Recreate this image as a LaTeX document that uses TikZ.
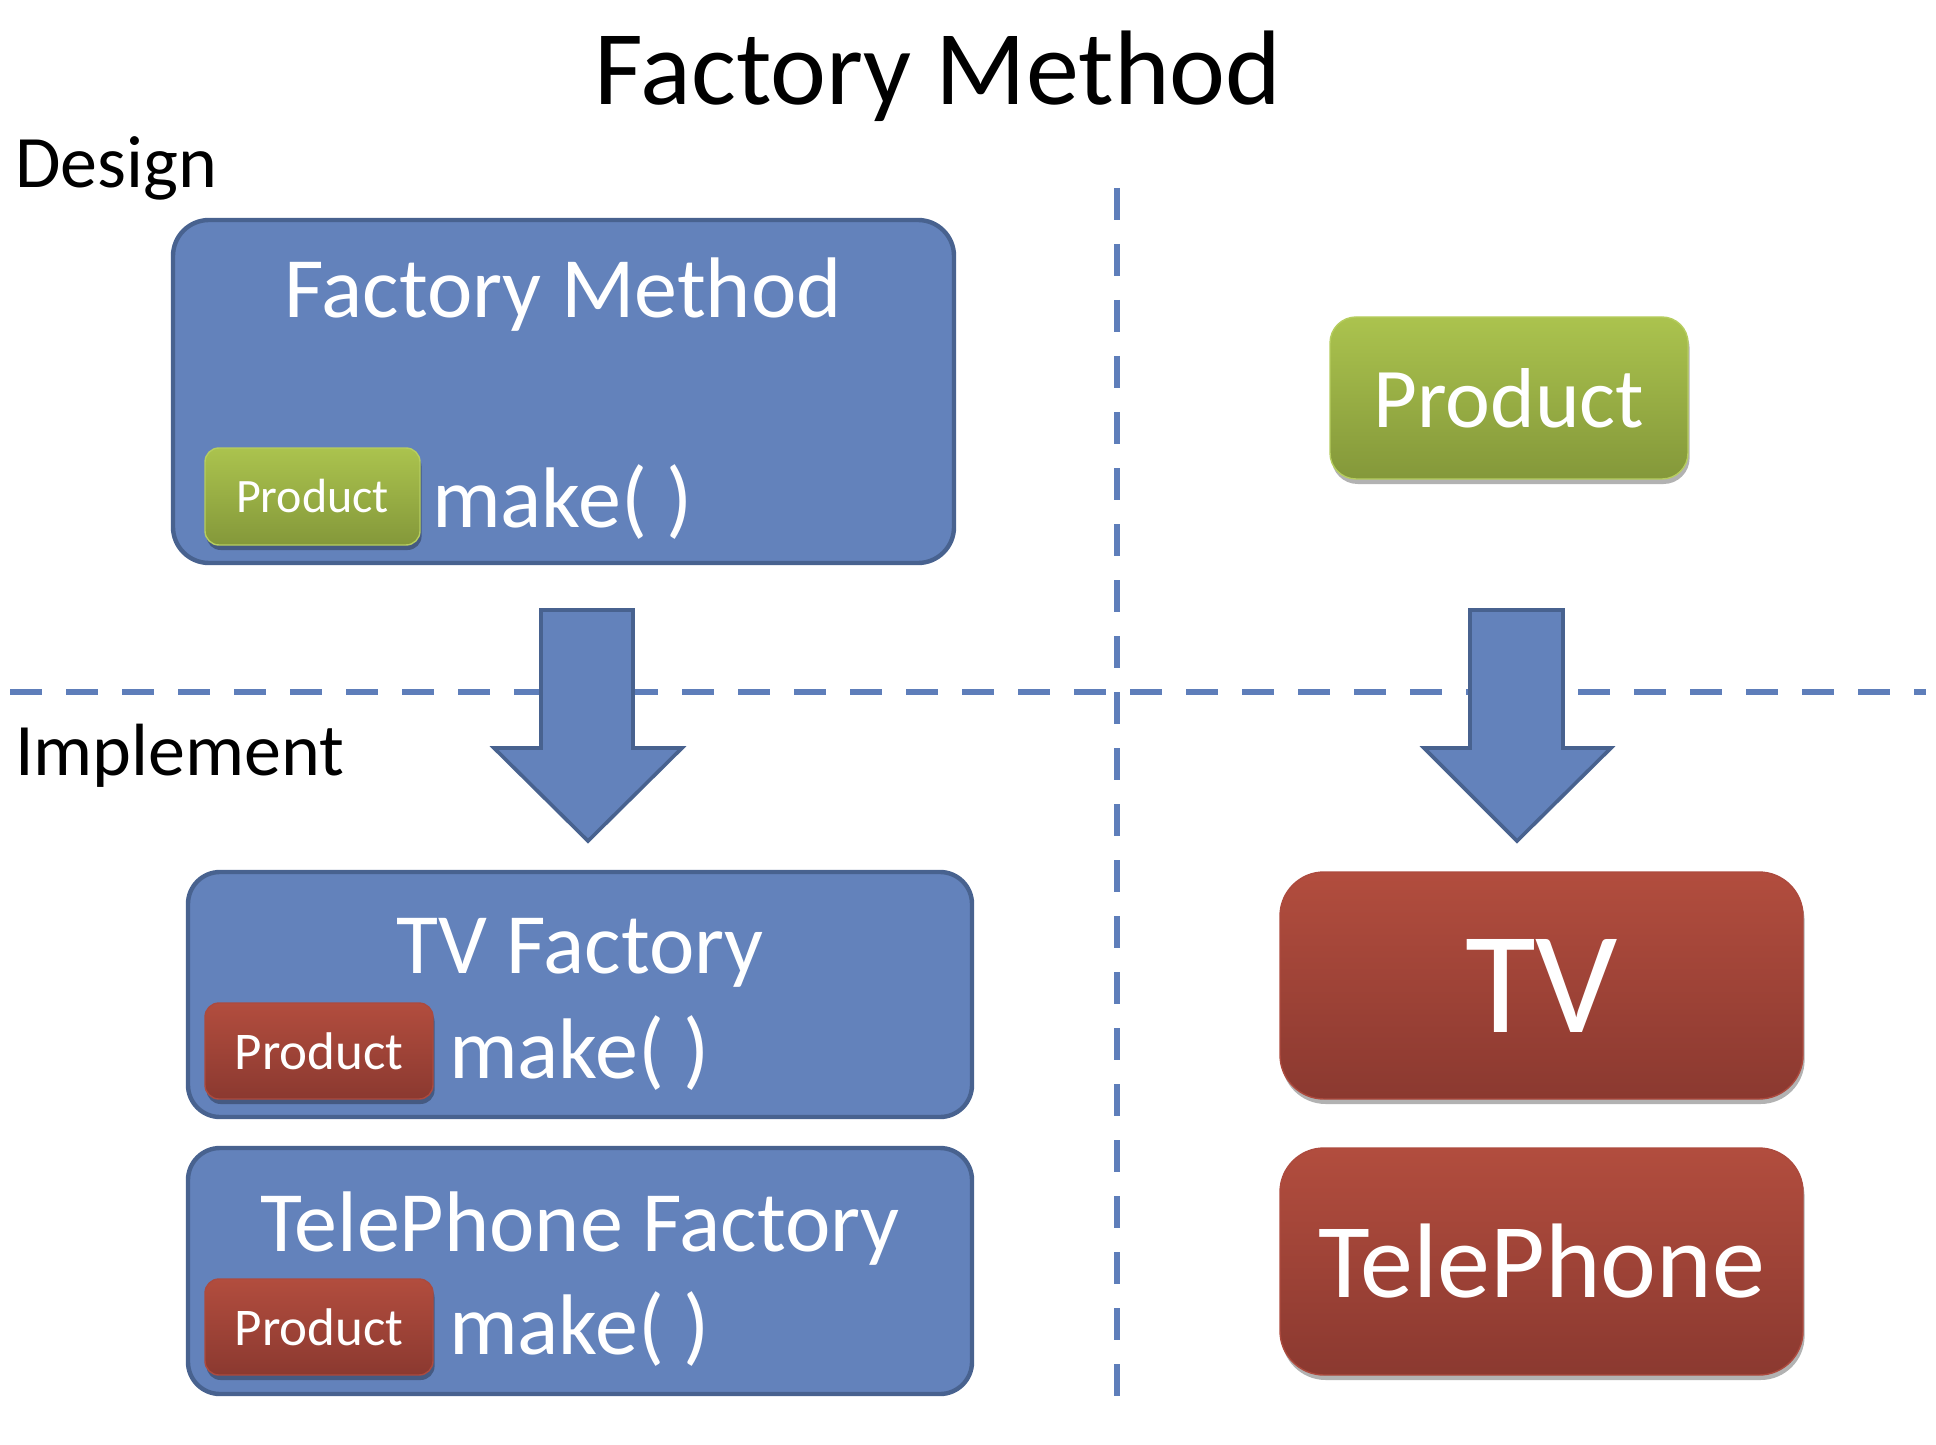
\documentclass[tikz,border=0pt]{standalone}
\usepackage{fontspec}
\setmainfont{Carlito}
\usetikzlibrary{shadows}
\definecolor{bluefill}{RGB}{99,130,187}
\definecolor{blueline}{RGB}{72,98,143}
\definecolor{dashblue}{RGB}{94,126,186}
\definecolor{greentop}{RGB}{171,195,78}
\definecolor{greenbot}{RGB}{132,152,58}
\definecolor{greenline}{RGB}{182,205,95}
\definecolor{redtop}{RGB}{178,77,62}
\definecolor{redbot}{RGB}{139,57,48}
\definecolor{redline}{RGB}{172,74,62}
\begin{document}
\begin{tikzpicture}[x=0.5pt,y=-0.5pt,
  txt/.style={inner sep=0pt, outer sep=0pt},
  bluebox/.style={draw=blueline, line width=2.2pt, fill=bluefill, inner sep=0pt},
  shade/.style={drop shadow={shadow xshift=0.8pt, shadow yshift=-2.5pt, opacity=0.3, fill=black}},
  greenbox/.style={shade, top color=greentop, bottom color=greenbot, draw=greenline, line width=0.7pt, text=white, inner sep=0pt},
  redbox/.style={shade, top color=redtop, bottom color=redbot, draw=redline, line width=0.7pt, text=white, inner sep=0pt},
  dashline/.style={draw=dashblue, line width=3pt, dash pattern=on 16pt off 12pt},
  blockarrow/.style={draw=blueline, line width=1.8pt, fill=bluefill, line join=miter},
  boxfont/.style={font=\fontsize{43pt}{50pt}\selectfont, text=white},
]
\useasboundingbox (0,0) rectangle (1936,1444);

% headings
\node[txt, anchor=base, font=\fontsize{53pt}{60pt}\selectfont] (title) at (938,105) {Factory Method};
\node[txt, anchor=base west, font=\fontsize{37pt}{44pt}\selectfont] (design) at (15,188) {Design};
\node[txt, anchor=base west, font=\fontsize{37pt}{44pt}\selectfont] (impl) at (15,775) {Implement};

% dashed separators
\coordinate (hl) at (10,692);
\coordinate (hr) at (1926,692);
\coordinate (vt) at (1117,188);
\coordinate (vb) at (1117,1417);
\draw[dashline] (hl) -- (hr);
\draw[dashline] (vt) -- (vb);

% Design: factory method box
\node[bluebox, rounded corners=18pt, minimum width=390.5pt, minimum height=171.5pt] (fm) at (563.5,391.5) {};
\node[txt, boxfont, anchor=base] (fmtitle) at (563,318) {Factory Method};
\node[greenbox, rounded corners=7pt, minimum width=107.5pt, minimum height=48.5pt,
      font=\fontsize{24pt}{28pt}\selectfont] (fmprod) at (312.5,496.5) {Product};
\node[txt, boxfont, anchor=base west] (fmmake) at (432,527) {make( )};

% Design: product
\node[greenbox, rounded corners=13pt, minimum width=179pt, minimum height=81pt,
      font=\fontsize{42.5pt}{50pt}\selectfont] (prod) at (1509,398) {Product};

% block arrows
\draw[blockarrow] (541,610) -- (633,610) -- (633,748) -- (682,748) -- (588,841) -- (494,748) -- (541,748) -- cycle;
\draw[blockarrow] (1470,610) -- (1563,610) -- (1563,748) -- (1611,748) -- (1517,841) -- (1424,748) -- (1470,748) -- cycle;

% Implement: TV factory
\node[bluebox, rounded corners=16pt, minimum width=392pt, minimum height=122.5pt] (tvf) at (580,994.5) {};
\node[txt, boxfont, anchor=base] (tvftitle) at (580,973) {TV Factory};
\node[redbox, rounded corners=7pt, minimum width=114pt, minimum height=48pt,
      font=\fontsize{26.5pt}{30pt}\selectfont] (tvprod) at (319,1051) {Product};
\node[txt, boxfont, anchor=base west] (tvmake) at (449,1078) {make( )};

% Implement: TelePhone factory
\node[bluebox, rounded corners=16pt, minimum width=392pt, minimum height=123pt] (telf) at (580,1271) {};
\node[txt, boxfont, anchor=base] (telftitle) at (580,1251) {TelePhone Factory};
\node[redbox, rounded corners=7pt, minimum width=114pt, minimum height=48pt,
      font=\fontsize{26.5pt}{30pt}\selectfont] (telprod) at (319,1327) {Product};
\node[txt, boxfont, anchor=base west] (telmake) at (449,1354) {make( )};

% Implement: products
\node[redbox, rounded corners=22pt, minimum width=261.5pt, minimum height=113.5pt,
      font=\fontsize{72.5pt}{80pt}\selectfont] (tv) at (1541.5,985.5) {TV};
\node[redbox, rounded corners=22pt, minimum width=261.5pt, minimum height=113.5pt,
      font=\fontsize{53pt}{60pt}\selectfont] (tel) at (1541.5,1261.5) {TelePhone};
\end{tikzpicture}
\end{document}
